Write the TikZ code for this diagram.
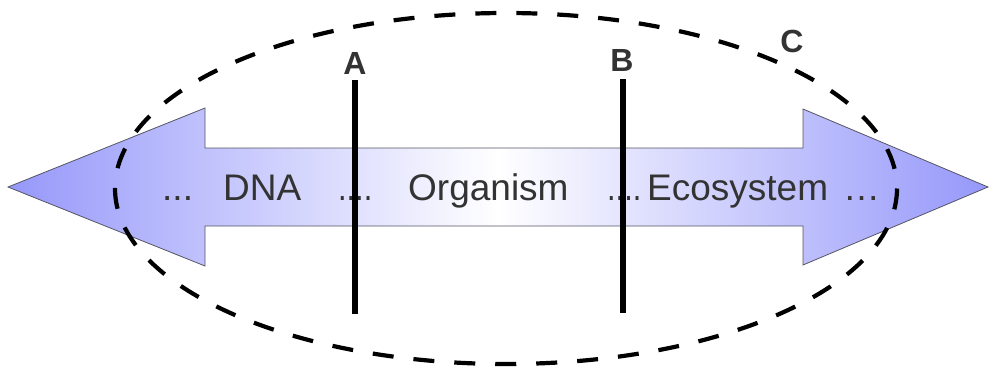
\documentclass[tikz,border=0pt]{standalone}
\usepackage{fontspec}
\setmainfont{Liberation Sans}
\definecolor{tipblue}{RGB}{150,152,250}
\definecolor{edgegrey}{RGB}{85,85,100}
\definecolor{txtgrey}{RGB}{51,51,51}
\begin{document}
\begin{tikzpicture}[x=1pt,y=-1pt,
  wordlabel/.style={inner sep=0pt,anchor=base west,text=txtgrey,font=\fontsize{37}{40}\selectfont},
  dotlabel/.style={wordlabel,xscale=0.83,transform shape},
  letterlabel/.style={inner sep=0pt,anchor=base,text=txtgrey,font=\fontsize{32}{35}\selectfont\bfseries},
  cutline/.style={line width=5.5pt,black},
  scopeline/.style={line width=4.2pt,black,dash pattern=on 21pt off 20pt}]
\useasboundingbox (0,0) rectangle (992,367);
% double arrow
\draw[edgegrey,line width=0.8pt,left color=tipblue,right color=tipblue,middle color=white]
  (8,187) -- (205,108) -- (205,148) -- (803,148) -- (803,109) -- (988,187)
  -- (803,265) -- (803,226) -- (205,226) -- (205,266) -- cycle;
% texts
\node[wordlabel] (d1) at (162,200) {...};
\node[wordlabel] (dna) at (223,200) {DNA};
\node[dotlabel] (d2) at (338,200) {....};
\node[wordlabel] (org) at (408,200) {Organism};
\node[dotlabel] (d3) at (607,200) {....};
\node[wordlabel] (eco) at (647,200) {Ecosystem};
\node[wordlabel] (d4) at (843,200) {…};
% dashed ellipse
\draw[scopeline] (506,188.5) ellipse [x radius=391, y radius=175.5];
% cut lines
\coordinate (At) at (355,80);
\coordinate (Ab) at (355,314);
\coordinate (Bt) at (623,79);
\coordinate (Bb) at (623,313);
\draw[cutline] (At) -- (Ab);
\draw[cutline] (Bt) -- (Bb);
\node[letterlabel] (A) at (355,74) {A};
\node[letterlabel] (B) at (622,71) {B};
\node[letterlabel] (C) at (792,52) {C};
\end{tikzpicture}
\end{document}
